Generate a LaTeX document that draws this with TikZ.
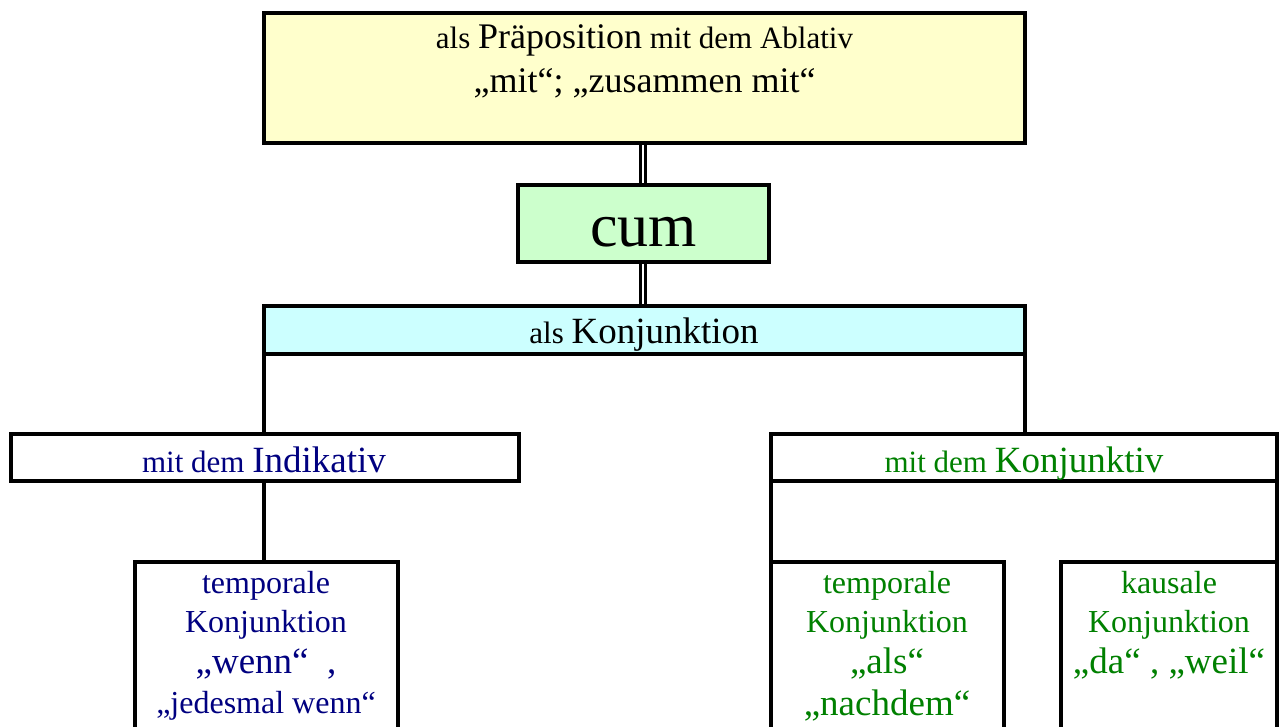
\documentclass[tikz,border=0pt]{standalone}
\usepackage{fontspec}
\setmainfont{Liberation Serif}
\usetikzlibrary{backgrounds}
\definecolor{topfill}{HTML}{FFFFCC}
\definecolor{cumfill}{HTML}{CCFFCC}
\definecolor{konjfill}{HTML}{CCFFFF}
\definecolor{navytext}{HTML}{000080}
\definecolor{greentext}{HTML}{008000}
\newcommand{\FS}[1]{\fontsize{#1}{#1}\selectfont}
\begin{document}
\begin{tikzpicture}[x=1pt,y=-1pt,
  box/.style={draw=black, line width=4pt, inner sep=0pt, outer sep=0pt, anchor=north west},
  lbl/.style={inner sep=0pt, outer sep=0pt, anchor=base},
  conn/.style={draw=black, line width=4pt},
  dbl/.style={draw=black, line width=3pt, double=white, double distance=2pt}]
\useasboundingbox (0,0) rectangle (1279,727);
\clip (0,0) rectangle (1279,727);

% boxes
\node[box, fill=topfill, minimum width=761pt, minimum height=130pt] (top) at (264,13) {};
\node[box, fill=cumfill, minimum width=251.5pt, minimum height=77pt] (cum) at (517.5,185.5) {};
\node[box, fill=konjfill, minimum width=761pt, minimum height=48pt] (konj) at (264,306) {};
\node[box, fill=white, minimum width=508pt, minimum height=47pt] (ind) at (11,434) {};
\node[box, fill=white, minimum width=506pt, minimum height=47pt] (konjv) at (771,434) {};
\node[box, fill=white, minimum width=506pt, minimum height=280pt] (konjvbody) at (771,481) {};
\node[box, fill=white, minimum width=263pt, minimum height=200pt] (ltemp) at (134.5,562) {};
\node[box, fill=white, minimum width=232.5pt, minimum height=200pt] (rtemp) at (771,562) {};
\node[box, fill=white, minimum width=216pt, minimum height=200pt] (kaus) at (1061,562) {};

% connectors
\begin{scope}[on background layer]
\draw[dbl] (cum.north |- top.south) -- (cum.north);
\draw[dbl] (cum.south) -- (cum.south |- konj.north);
\draw[conn] (konj.south west) -- (konj.south west |- ind.north);
\draw[conn] (konj.south east) -- (konj.south east |- konjv.north);
\draw[conn] (konj.south west |- ind.south) -- (konj.south west |- ltemp.north);
\end{scope}

% texts
\node[lbl] (t1) at (644.5,49) {{\FS{31}als }{\FS{36}Präposition}{\FS{31} mit dem Ablativ}};
\node[lbl] (t2) at (644.5,93) {\FS{36}„mit“; „zusammen mit“};
\node[lbl] (tcum) at (643.5,247) {\FS{62}cum};
\node[lbl] (tkonj) at (644,343) {{\FS{31}als }{\FS{37}Konjunktion}};
\node[lbl, text=navytext] (tind) at (264,472) {{\FS{31}mit dem }{\FS{37}Indikativ}};
\node[lbl, text=greentext] (tkonjv) at (1024,472) {{\FS{31}mit dem }{\FS{37}Konjunktiv}};

\node[lbl, text=navytext] (l1) at (266,593) {\FS{32}temporale};
\node[lbl, text=navytext] (l2) at (266,632) {\FS{32}Konjunktion};
\node[lbl, text=navytext] (l3) at (266,673) {\FS{37}„wenn“~~,};
\node[lbl, text=navytext] (l4) at (266,713) {\FS{32}„jedesmal wenn“};

\node[lbl, text=greentext] (r1) at (887,593) {\FS{32}temporale};
\node[lbl, text=greentext] (r2) at (887,632) {\FS{32}Konjunktion};
\node[lbl, text=greentext] (r3) at (887,673) {\FS{37}„als“};
\node[lbl, text=greentext] (r4) at (887,715) {\FS{37}„nachdem“};

\node[lbl, text=greentext] (k1) at (1169,593) {\FS{32}kausale};
\node[lbl, text=greentext] (k2) at (1169,632) {\FS{32}Konjunktion};
\node[lbl, text=greentext] (k3) at (1169,673) {\FS{37}„da“ , „weil“};
\end{tikzpicture}
\end{document}
